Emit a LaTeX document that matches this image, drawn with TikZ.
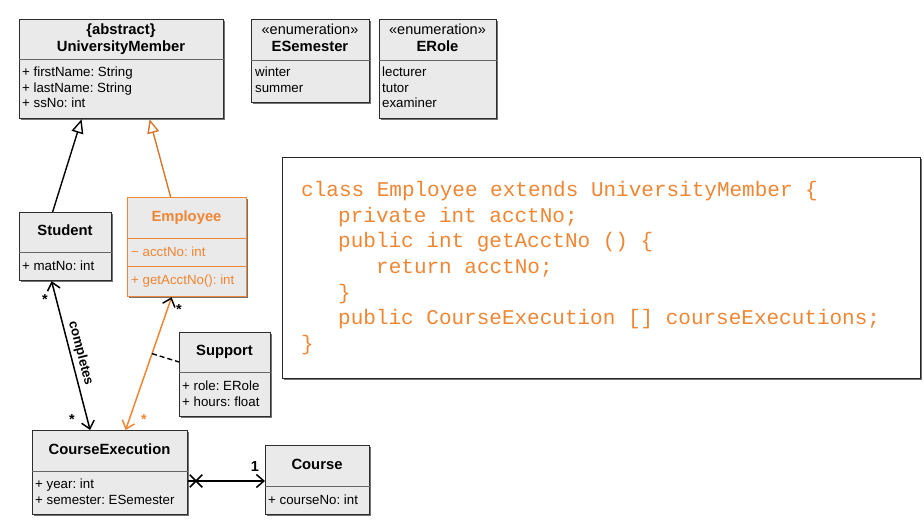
\documentclass[tikz,border=0pt]{standalone}
\usepackage{fontspec}
\setmainfont{Liberation Sans}
\newfontfamily\codefont{Liberation Mono}
\usetikzlibrary{arrows.meta,shapes.misc,shadows}
\frenchspacing
\definecolor{umlorange}{RGB}{238,134,52}
\definecolor{genorange}{RGB}{214,118,44}
\definecolor{boxgray}{RGB}{234,234,234}
\definecolor{edgegray}{RGB}{45,45,45}
\tikzset{
  umlbox/.style={draw=edgegray, fill=boxgray, line width=1.2pt, rectangle, inner sep=0pt, anchor=north west,
    drop shadow={shadow xshift=1pt, shadow yshift=-1pt, fill=black!55, opacity=1}},
  orangebox/.style={umlbox, draw=umlorange, drop shadow={shadow xshift=0.8pt, shadow yshift=-0.8pt, fill=umlorange!70!black, opacity=0.6}},
  divline/.style={draw=black!60, line width=0.9pt},
  odivline/.style={draw=umlorange, line width=0.9pt},
  ttl/.style={font=\fontsize{14.8}{17}\selectfont\bfseries, anchor=base, inner sep=0pt},
  stereo/.style={font=\fontsize{14.5}{17}\selectfont, anchor=base, inner sep=0pt},
  attr/.style={font=\fontsize{13.3}{15}\selectfont, anchor=base west, inner sep=0pt},
  mult/.style={font=\fontsize{14.5}{16}\selectfont\bfseries, inner sep=0pt},
  codeline/.style={font=\fontsize{21}{25}\codefont, text=umlorange, anchor=base west, inner sep=0pt},
  gen/.style={line width=1.4pt, -{Triangle[open, length=14pt, width=12pt, fill=white]}},
  assoc/.style={line width=1.5pt},
  barb/.tip={Straight Barb[length=7.5pt, width=13pt]},
  blackbarb/.tip={Straight Barb[length=7.5pt, width=13pt, color=black]},
}
\begin{document}
\begin{tikzpicture}[x=1pt, y=-1pt]
\useasboundingbox (0,0) rectangle (924,526);

% UniversityMember
\node[umlbox, minimum width=204pt, minimum height=99pt] (um) at (19,19) {};
\draw[divline] (um.west |- 0,59) -- (um.east |- 0,59);
\node[ttl] (umst) at (121,35) {\{abstract\}};
\node[ttl] (umt) at (121,52) {UniversityMember};
\node[attr] (uma1) at (22,77) {+ firstName: String};
\node[attr] (uma2) at (22,93) {+ lastName: String};
\node[attr] (uma3) at (22,108) {+ ssNo: int};

% ESemester
\node[umlbox, minimum width=118pt, minimum height=83pt] (es) at (251,19) {};
\draw[divline] (es.west |- 0,60) -- (es.east |- 0,60);
\node[stereo] (esst) at (310,35) {«enumeration»};
\node[ttl] (est) at (310,52) {ESemester};
\node[attr] (esa1) at (255,77) {winter};
\node[attr] (esa2) at (255,93) {summer};

% ERole
\node[umlbox, minimum width=117pt, minimum height=99pt] (er) at (379,19) {};
\draw[divline] (er.west |- 0,60) -- (er.east |- 0,60);
\node[stereo] (erst) at (437.5,35) {«enumeration»};
\node[ttl] (ert) at (437.5,52) {ERole};
\node[attr] (era1) at (382,77) {lecturer};
\node[attr] (era2) at (382,93) {tutor};
\node[attr] (era3) at (382,108) {examiner};

% Student
\node[umlbox, minimum width=92pt, minimum height=68pt] (st) at (19,212) {};
\draw[divline] (st.west |- 0,252) -- (st.east |- 0,252);
\node[ttl] (stt) at (65,236) {Student};
\node[attr] (sta1) at (22,271) {+ matNo: int};

% Employee
\node[orangebox, minimum width=119pt, minimum height=99pt] (emp) at (127,197) {};
\draw[odivline] (emp.west |- 0,238) -- (emp.east |- 0,238);
\draw[odivline] (emp.west |- 0,266) -- (emp.east |- 0,266);
\node[ttl, text=umlorange] (empt) at (186.5,222) {Employee};
\node[attr, text=umlorange] (empa1) at (131,257) {\char"2212\ acctNo: int};
\node[attr, text=umlorange] (empa2) at (131,285) {+ getAcctNo(): int};

% Support
\node[umlbox, minimum width=91pt, minimum height=84pt] (sup) at (179,332) {};
\draw[divline] (sup.west |- 0,372) -- (sup.east |- 0,372);
\node[ttl] (supt) at (224.5,356) {Support};
\node[attr] (supa1) at (182,391) {+ role: ERole};
\node[attr] (supa2) at (182,407) {+ hours: float};

% CourseExecution
\node[umlbox, minimum width=155pt, minimum height=84pt] (ce) at (32,430) {};
\draw[divline] (ce.west |- 0,471) -- (ce.east |- 0,471);
\node[ttl] (cet) at (109.5,454) {CourseExecution};
\node[attr] (cea1) at (35,489) {+ year: int};
\node[attr] (cea2) at (35,504) {+ semester: ESemester};

% Course
\node[umlbox, minimum width=104pt, minimum height=69pt] (co) at (265,445) {};
\draw[divline] (co.west |- 0,486) -- (co.east |- 0,486);
\node[ttl] (cot) at (317,469) {Course};
\node[attr] (coa1) at (268,504) {+ courseNo: int};

% Code box
\node[draw=black!85, line width=1.2pt, fill=white, minimum width=638pt, minimum height=221pt, anchor=north west, inner sep=0pt,
  drop shadow={shadow xshift=1pt, shadow yshift=-1pt, fill=black!55, opacity=1}] (code) at (282,157) {};
\node[codeline] (c1) at (301,197) {class Employee extends UniversityMember \{};
\node[codeline] (c2) at (338,223) {private int acctNo;};
\node[codeline] (c3) at (338,248) {public int getAcctNo () \{};
\node[codeline] (c4) at (376,274) {return acctNo;};
\node[codeline] (c5) at (338,300) {\}};
\node[codeline] (c6) at (338,325) {public CourseExecution [] courseExecutions;};
\node[codeline] (c7) at (301,351) {\}};

% Generalizations
\draw[gen] ([xshift=-13pt]st.north) -- ([xshift=-40pt]um.south);
\draw[gen, draw=genorange] ([xshift=-16.5pt]emp.north) -- ([xshift=28pt]um.south);

% completes association
\draw[assoc, barb-barb] ([xshift=-14pt]st.south) -- node[sloped, above, font=\fontsize{13.3}{15}\selectfont\bfseries, inner sep=3pt, pos=0.5] (lblc) {completes} ([xshift=-20pt]ce.north);
\node[mult] (m1) at (45,300) {*};
\node[mult] (m2) at (72,420) {*};

% Employee -- CourseExecution association
\draw[assoc, draw=umlorange, blackbarb-barb] ([xshift=-15.5pt]emp.south) -- coordinate[pos=0.425] (mid) ([xshift=15.5pt]ce.north);
\node[mult] (m3) at (179,310) {*};
\node[mult, text=umlorange] (m4) at (144,420) {*};

% association class link
\draw[line width=1.4pt, dash pattern=on 5pt off 3pt] (mid) -- (sup.west |- 0,362);

% CourseExecution -> Course
\node[cross out, draw, line width=1.5pt, minimum size=11pt, inner sep=0pt] (xx) at (196,481) {};
\draw[assoc, -barb] (ce.east |- xx.center) -- (co.west |- xx.center);
\node[mult] (m5) at (255,467) {1};
\end{tikzpicture}
\end{document}
